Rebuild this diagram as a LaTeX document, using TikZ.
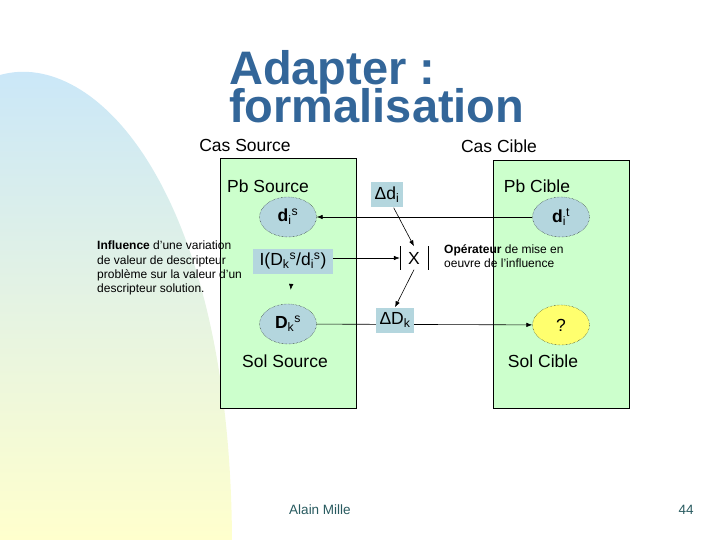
\documentclass[tikz,border=0pt]{standalone}
\usepackage{fontspec}
\setmainfont{Liberation Sans}
\usepackage{tikz}
\usepackage{xcolor}
\usetikzlibrary{positioning, arrows.meta, shapes.geometric, calc}
\definecolor{titleBlue}{RGB}{51,102,153}
\definecolor{caseGreen}{RGB}{204,255,204}
\definecolor{descBlue}{RGB}{180,214,222}
\definecolor{askYellow}{RGB}{255,255,110}
\definecolor{footTeal}{RGB}{40,90,95}
\definecolor{fadeBlue}{RGB}{200,230,250}
\definecolor{fadeYellow}{RGB}{255,255,205}
\newcommand{\subsup}[3]{#1\textsubscript{#2}\textsuperscript{#3}}
\pgfdeclarelayer{back}
\pgfdeclarelayer{mid}
\pgfsetlayers{back,mid,main}

\begin{document}
\begin{tikzpicture}[x=1pt, y=-1pt,
  heading/.style={font=\fontsize{17.5}{20}\selectfont},
  caseBox/.style={draw, fill=caseGreen, line width=0.6pt},
  descr/.style={ellipse, draw, densely dotted, fill=descBlue, minimum width=57pt, minimum height=40pt, inner sep=0pt, font=\fontsize{17.5}{20}\selectfont},
  delta/.style={fill=descBlue, inner sep=4pt, minimum height=25pt, font=\fontsize{17.5}{20}\selectfont},
  note/.style={font=\fontsize{12}{14.3}\selectfont, anchor=north west, align=left, inner sep=0pt},
  conn/.style={draw, line width=0.6pt, -{Latex[length=6pt,width=4.5pt]}},
  foot/.style={font=\fontsize{13.5}{16}\selectfont, text=footTeal},
]
  \useasboundingbox (0,0) rectangle (720,540);

  \begin{pgfonlayer}{back}
    \shade[top color=fadeBlue, bottom color=fadeYellow] (0,540) -- (0,75) .. controls (95,48) and (230,190) .. (232,540) -- cycle;
    \draw[caseBox] (220,158) rectangle (356,408);
    \draw[caseBox] (493,160) rectangle (629,408);
  \end{pgfonlayer}

  \node[font=\fontsize{47}{47}\selectfont\bfseries, text=titleBlue, anchor=base west, inner sep=0pt] (title1) at (229,85) {Adapter :};
  \node[font=\fontsize{47}{47}\selectfont\bfseries, text=titleBlue, anchor=base west, inner sep=0pt] (title2) at (229,123) {formalisation};

  \node[heading] (cassrc) at (245,145) {Cas Source};
  \node[heading] (cascib) at (499,146) {Cas Cible};
  \node[heading] (pbsrc) at (268,186) {Pb Source};
  \node[heading] (solsrc) at (285,361) {Sol Source};
  \node[heading] (pbcib) at (537,186) {Pb Cible};
  \node[heading] (solcib) at (543,361) {Sol Cible};

  \node[descr] (dis) at (288,217) {\subsup{\textbf{d}}{i}{s}};
  \node[descr] (dks) at (288,324) {\subsup{\textbf{D}}{k}{s}};
  \node[descr] (dit) at (561,217) {\subsup{\textbf{d}}{i}{t}};
  \node[descr, fill=askYellow] (q) at (561,325) {?};
  \node[delta, minimum width=80pt, inner sep=2pt] (infl) at (293,261) {I(\subsup{D}{k}{s}/\subsup{d}{i}{s})};

  \node[delta] (dd) at (387,195) {Δd\textsubscript{i}};
  \node[delta] (ddk) at (395,320) {ΔD\textsubscript{k}};
  \node[font=\fontsize{17.5}{20}\selectfont, minimum width=28pt, minimum height=23pt, inner sep=0pt] (xop) at (414,258) {X};
  \draw[line width=0.6pt] (xop.north west) -- (xop.south west) (xop.north east) -- (xop.south east);

  \node[note] (inflnote) at (97,241) {\textbf{Influence} d'une variation\\de valeur de descripteur\\problème sur la valeur d'un\\descripteur solution.};
  \node[note] (opnote) at (444,244) {\textbf{Opérateur} de mise en\\oeuvre de l'influence};

  \begin{pgfonlayer}{mid}
    \draw[conn] (dit) -- (dis);
    \draw[conn] (infl.east |- xop.west) -- (xop.west);
    \draw[conn] (dd) -- (xop.north);
    \draw[conn] (xop.south) -- (ddk.north);
    \draw[conn] (dks) -- (q);
    \draw[caseGreen, line width=0.6pt, shorten >=14pt, -{Latex[length=6pt,width=4.5pt,color=black]}] (infl) -- (dks);
  \end{pgfonlayer}

  \node[foot] (author) at (320,510) {Alain Mille};
  \node[foot] (page) at (686,510) {44};
\end{tikzpicture}
\end{document}
